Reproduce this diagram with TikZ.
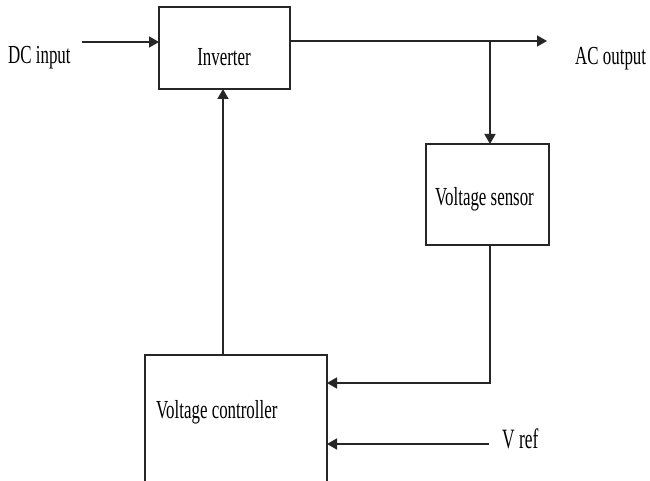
\documentclass[tikz,border=0pt]{standalone}
\usepackage{fontspec}
\setmainfont[FakeStretch=0.65]{Liberation Serif}
\newfontfamily\vreffont[FakeStretch=0.62]{Liberation Serif}
\usetikzlibrary{arrows.meta}
\begin{document}
\begin{tikzpicture}[x=1pt,y=-1pt,
  blk/.style={draw=black!85,line width=1.6pt,inner sep=0pt,outer sep=0pt},
  lbl/.style={inner sep=0pt,font=\fontsize{26}{30}\selectfont,text=black},
  conn/.style={draw=black!85,line width=1.6pt},
  arr/.style={conn,-{Triangle[length=10pt,width=11pt]}}]
\useasboundingbox (0,0) rectangle (650,481);
\fill[white] (0,0) rectangle (650,481);
% blocks
\node[blk,minimum width=131pt,minimum height=82pt] (inv) at (224.5,48) {};
\node[blk,minimum width=123pt,minimum height=101pt] (sens) at (487.5,194.5) {};
\node[blk,minimum width=182pt,minimum height=130pt] (ctrl) at (236,420) {};
% texts
\node[lbl,anchor=base west] (dc) at (8,64) {DC input};
\node[lbl,anchor=base] (invt) at (224,66) {Inverter};
\node[lbl,anchor=base west] (ac) at (575,65) {AC output};
\node[lbl,anchor=base] (senst) at (484.5,205) {Voltage sensor};
\node[lbl,anchor=base west] (ctrlt) at (156,418) {Voltage controller};
\node[lbl,anchor=base west,font=\vreffont\fontsize{28}{32}\selectfont] (vreft) at (502,448) {V ref};
% free ends and bends
\coordinate (dcs) at (82,42);
\coordinate (ace) at (547,41);
\coordinate (br) at (490,41);
\coordinate (fb) at (490,383);
\coordinate (vr) at (489,444);
\coordinate (up) at (223,355);
% connectors
\draw[arr] (dcs) -- (dcs -| inv.west);
\draw[arr] (inv.east |- ace) -- (ace);
\draw[arr] (br) -- (br |- sens.north);
\draw[arr] (sens.south -| fb) -- (fb) -- (fb -| ctrl.east);
\draw[arr] (vr) -- (vr -| ctrl.east);
\draw[arr] (ctrl.north -| up) -- (up |- inv.south);
\end{tikzpicture}
\end{document}
